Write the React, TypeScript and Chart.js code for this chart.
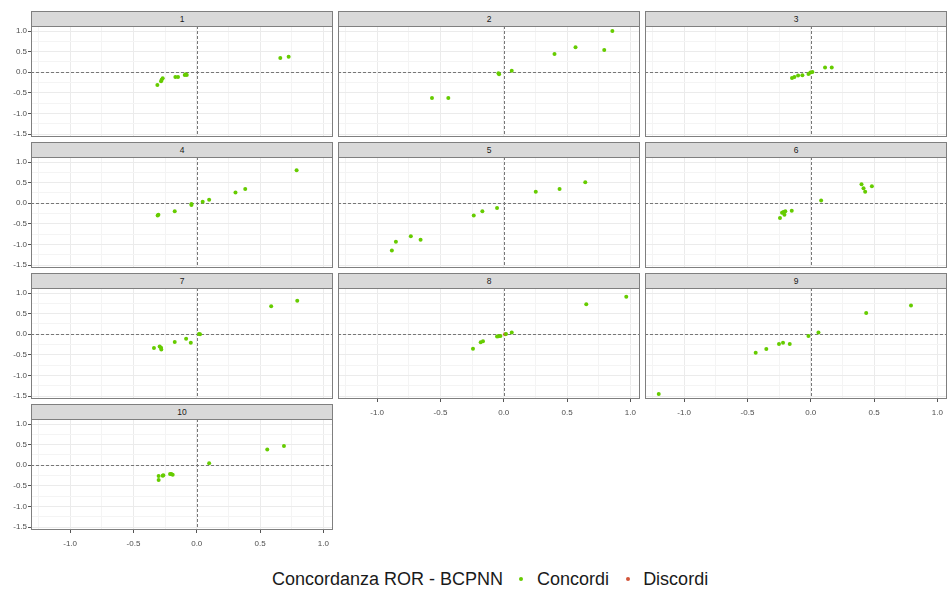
import React, { useEffect, useRef } from "react";
import { Chart, registerables } from "chart.js";
Chart.register(...registerables);

const panelLabels = ["1", "2", "3", "4", "5", "6", "7", "8", "9", "10"];

const x1 = [-0.311, -0.282, -0.277, -0.269, -0.169, -0.148, -0.095, -0.079, -0.087, 0.66, 0.726];
const y1 = [-0.311, -0.221, -0.18, -0.148, -0.115, -0.115, -0.066, -0.066, -0.049, 0.344, 0.377];
const x2 = [-0.567, -0.438, -0.037, -0.042, 0.063, 0.401, 0.567, 0.794, 0.858];
const y2 = [-0.623, -0.623, -0.049, -0.025, 0.033, 0.443, 0.607, 0.541, 1.0];
const x3 = [-0.148, -0.129, -0.1, -0.066, -0.018, -0.003, 0.013, 0.113, 0.166];
const y3 = [-0.139, -0.115, -0.082, -0.074, -0.041, -0.008, 0.008, 0.115, 0.115];
const x4 = [-0.309, -0.303, -0.174, -0.042, -0.042, 0.047, 0.098, 0.306, 0.383, 0.789];
const y4 = [-0.295, -0.279, -0.197, -0.041, -0.016, 0.033, 0.082, 0.262, 0.344, 0.803];
const x5 = [-0.884, -0.852, -0.734, -0.657, -0.237, -0.169, -0.053, 0.253, 0.441, 0.644];
const y5 = [-1.148, -0.934, -0.803, -0.885, -0.295, -0.197, -0.115, 0.279, 0.344, 0.508];
const x6 = [-0.243, -0.227, -0.216, -0.208, -0.201, -0.15, 0.082, 0.401, 0.417, 0.43, 0.483];
const y6 = [-0.361, -0.23, -0.213, -0.279, -0.197, -0.18, 0.066, 0.459, 0.361, 0.279, 0.41];
const x7 = [-0.338, -0.293, -0.282, -0.28, -0.174, -0.084, -0.047, 0.018, 0.026, 0.588, 0.794];
const y7 = [-0.336, -0.295, -0.328, -0.369, -0.189, -0.107, -0.205, 0.008, 0.0, 0.68, 0.811];
const x8 = [-0.243, -0.182, -0.164, -0.053, -0.042, -0.026, 0.018, 0.063, 0.652, 0.968];
const y8 = [-0.352, -0.197, -0.172, -0.057, -0.049, -0.041, 0.008, 0.041, 0.73, 0.91];
const x9 = [-1.201, -0.435, -0.351, -0.251, -0.219, -0.166, -0.018, 0.061, 0.438, 0.792];
const y9 = [-1.45, -0.451, -0.361, -0.238, -0.205, -0.238, -0.041, 0.041, 0.516, 0.697];
const x10 = [-0.301, -0.301, -0.269, -0.264, -0.211, -0.201, -0.19, 0.098, 0.557, 0.689];
const y10 = [-0.262, -0.361, -0.254, -0.246, -0.213, -0.213, -0.23, 0.049, 0.385, 0.467];

const discordX8 = [0.011];
const discordY8 = [0.0];

const concordX = [x1, x2, x3, x4, x5, x6, x7, x8, x9, x10];
const concordY = [y1, y2, y3, y4, y5, y6, y7, y8, y9, y10];
const discordX: number[][] = [[], [], [], [], [], [], [], discordX8, [], []];
const discordY: number[][] = [[], [], [], [], [], [], [], discordY8, [], []];

const xTicks = [-1.25, -1, -0.75, -0.5, -0.25, 0, 0.25, 0.5, 0.75, 1];
const yTicks = [-1.5, -1.25, -1, -0.75, -0.5, -0.25, 0, 0.25, 0.5, 0.75, 1];

const legendTitle = "Concordanza ROR - BCPNN";
const legendLabels = ["Concordi", "Discordi"];
const GREEN = "#66CC00";
const RED = "#D2553A";

// layout
const colLeft = [31, 338, 645];
const rowTop = [11, 142, 273, 404];
const plotW = 302;
const stripH = 15;
const plotH = 111;
const YW = 31;
const XH = 22;
const FONT = "'Liberation Sans', Arial, sans-serif";

function expand(vals: number[]) {
  const mn = Math.min(...vals);
  const mx = Math.max(...vals);
  const r = mx - mn;
  return [mn - 0.05 * r, mx + 0.05 * r];
}
const allX = ([] as number[]).concat(...concordX, ...discordX);
const allY = ([] as number[]).concat(...concordY, ...discordY);
const [xMin, xMax] = expand(allX);
const [yMin, yMax] = expand(allY);

const isMajor = (v: number) => Math.abs(v * 2 - Math.round(v * 2)) < 1e-6;

const zeroLines = {
  id: "zeroLines",
  beforeDatasetsDraw(chart: any) {
    const { ctx, chartArea, scales } = chart;
    const px = Math.round(scales.x.getPixelForValue(0)) + 0.5;
    const py = Math.round(scales.y.getPixelForValue(0)) + 0.5;
    ctx.save();
    ctx.beginPath();
    ctx.rect(chartArea.left, chartArea.top, chartArea.right - chartArea.left, chartArea.bottom - chartArea.top);
    ctx.clip();
    ctx.strokeStyle = "#777777";
    ctx.lineWidth = 1;
    ctx.setLineDash([3, 2]);
    ctx.beginPath();
    ctx.moveTo(chartArea.left, py);
    ctx.lineTo(chartArea.right, py);
    ctx.moveTo(px, chartArea.top);
    ctx.lineTo(px, chartArea.bottom);
    ctx.stroke();
    ctx.restore();
  },
};

const frame = {
  id: "frame",
  afterDraw(chart: any) {
    const { ctx, chartArea } = chart;
    ctx.save();
    ctx.strokeStyle = "#7F7F7F";
    ctx.lineWidth = 1;
    ctx.strokeRect(
      Math.round(chartArea.left) + 0.5,
      Math.round(chartArea.top) + 0.5,
      Math.round(chartArea.right - chartArea.left) - 1,
      Math.round(chartArea.bottom - chartArea.top) - 1
    );
    ctx.restore();
  },
};

function Panel({ idx }: { idx: number }) {
  const ref = useRef<HTMLCanvasElement>(null);
  const row = Math.floor(idx / 3);
  const col = idx % 3;
  const showY = col === 0;
  const showX = idx >= 7;
  const left = colLeft[col] - (showY ? YW : 0);
  const top = rowTop[row] + stripH;
  const w = plotW + (showY ? YW : 0);
  const h = plotH + (showX ? XH : 0);

  useEffect(() => {
    if (!ref.current) return;
    const tickFont = { size: 8, family: FONT };
    const chart = new Chart(ref.current, {
      type: "scatter",
      data: {
        datasets: [
          {
            label: legendLabels[0],
            data: concordX[idx].map((v, i) => ({ x: v, y: concordY[idx][i] })),
            backgroundColor: GREEN,
            borderWidth: 0,
            pointRadius: 2,
          },
          {
            label: legendLabels[1],
            data: discordX[idx].map((v, i) => ({ x: v, y: discordY[idx][i] })),
            backgroundColor: RED,
            borderWidth: 0,
            pointRadius: 2,
          },
        ],
      },
      options: {
        responsive: false,
        animation: false,
        devicePixelRatio: 1,
        layout: { padding: 0, autoPadding: false },
        plugins: { legend: { display: false }, tooltip: { enabled: false } },
        scales: {
          x: {
            type: "linear",
            min: xMin,
            max: xMax,
            afterBuildTicks: (axis: any) => {
              axis.ticks = xTicks.map((v) => ({ value: v }));
            },
            afterFit: (s: any) => {
              s.height = showX ? XH : 0;
              s.paddingLeft = 0;
              s.paddingRight = 0;
            },
            ticks: {
              display: showX,
              autoSkip: false,
              maxRotation: 0,
              padding: 6,
              color: "#4D4D4D",
              font: tickFont,
              callback: (v: any) => (isMajor(Number(v)) ? Number(v).toFixed(1) : ""),
            },
            grid: {
              drawTicks: showX,
              tickLength: 3,
              lineWidth: 1,
              color: (c: any) => (c.tick && isMajor(c.tick.value) ? "#EBEBEB" : "#F4F4F4"),
              tickColor: (c: any) => (c.tick && isMajor(c.tick.value) ? "#555555" : "rgba(0,0,0,0)"),
            },
            border: { display: false },
          },
          y: {
            type: "linear",
            min: yMin,
            max: yMax,
            afterBuildTicks: (axis: any) => {
              axis.ticks = yTicks.map((v) => ({ value: v }));
            },
            afterFit: (s: any) => {
              s.width = showY ? YW : 0;
              s.paddingTop = 0;
              s.paddingBottom = 0;
            },
            ticks: {
              display: showY,
              autoSkip: false,
              padding: 1,
              color: "#4D4D4D",
              font: tickFont,
              callback: (v: any) => (isMajor(Number(v)) ? Number(v).toFixed(1) : ""),
            },
            grid: {
              drawTicks: showY,
              tickLength: 3,
              lineWidth: 1,
              color: (c: any) => (c.tick && isMajor(c.tick.value) ? "#EBEBEB" : "#F4F4F4"),
              tickColor: (c: any) => (c.tick && isMajor(c.tick.value) ? "#555555" : "rgba(0,0,0,0)"),
            },
            border: { display: false },
          },
        },
      } as any,
      plugins: [zeroLines, frame],
    });
    return () => chart.destroy();
  }, [idx]);

  return (
    <>
      <div
        style={{
          position: "absolute",
          left: colLeft[col],
          top: rowTop[row],
          width: plotW,
          height: stripH + 1,
          boxSizing: "border-box",
          background: "#D9D9D9",
          border: "1px solid #7F7F7F",
          fontFamily: FONT,
          fontSize: 8.5,
          color: "#1A1A1A",
          display: "flex",
          alignItems: "center",
          justifyContent: "center",
        }}
      >
        {panelLabels[idx]}
      </div>
      <canvas
        ref={ref}
        width={w}
        height={h}
        style={{ position: "absolute", left, top, width: w, height: h }}
      />
    </>
  );
}

export default function App() {
  return (
    <div
      style={{
        position: "fixed",
        left: 0,
        top: 0,
        width: 949,
        height: 592,
        background: "#FFFFFF",
        overflow: "hidden",
      }}
    >
      {panelLabels.map((_, i) => (
        <Panel key={i} idx={i} />
      ))}
      <div
        style={{
          position: "absolute",
          left: 272,
          top: 568,
          height: 22,
          display: "flex",
          alignItems: "center",
          fontFamily: FONT,
          fontSize: 18,
          color: "#1A1A1A",
          whiteSpace: "nowrap",
        }}
      >
        <span style={{ marginRight: 9 }}>{legendTitle}</span>
        <span style={{ width: 17, display: "inline-flex", justifyContent: "center" }}>
          <span style={{ width: 4, height: 4, borderRadius: 2, background: GREEN, display: "inline-block" }} />
        </span>
        <span style={{ marginLeft: 8, marginRight: 10 }}>{legendLabels[0]}</span>
        <span style={{ width: 17, display: "inline-flex", justifyContent: "center" }}>
          <span style={{ width: 4, height: 4, borderRadius: 2, background: RED, display: "inline-block" }} />
        </span>
        <span style={{ marginLeft: 7 }}>{legendLabels[1]}</span>
      </div>
    </div>
  );
}
